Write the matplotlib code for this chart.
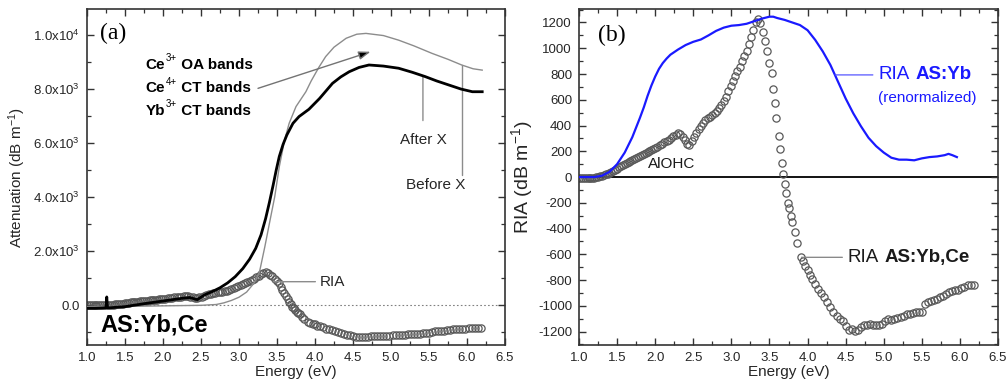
import numpy as np
import matplotlib
matplotlib.use("Agg")
import matplotlib.pyplot as plt
from matplotlib.ticker import MultipleLocator, FixedLocator

plt.rcParams['font.family'] = ['Liberation Sans', 'DejaVu Sans']
plt.rcParams['mathtext.fontset'] = 'custom'
plt.rcParams['mathtext.rm'] = 'Liberation Sans'
plt.rcParams['mathtext.bf'] = 'Liberation Sans:bold'
plt.rcParams['mathtext.it'] = 'Liberation Sans:italic'

# ---------------- data ----------------
# RIA of AS:Yb,Ce (open circles, both panels)
ria_e = [1.00, 1.025, 1.05, 1.075, 1.10, 1.125, 1.15, 1.175, 1.20, 1.225, 1.25, 1.275,
         1.30, 1.325, 1.35, 1.375, 1.40, 1.425, 1.45, 1.475, 1.50, 1.525, 1.55, 1.575,
         1.60, 1.625, 1.65, 1.675, 1.70, 1.725, 1.75, 1.775, 1.80, 1.825, 1.85, 1.875,
         1.90, 1.925, 1.95, 1.975, 2.00, 2.03, 2.06, 2.09, 2.12, 2.15, 2.18, 2.21, 2.24,
         2.27, 2.30, 2.33, 2.36, 2.39, 2.42, 2.45, 2.48, 2.51, 2.54, 2.57, 2.60, 2.63,
         2.66, 2.69, 2.72, 2.75, 2.78, 2.81, 2.84, 2.87, 2.90, 2.93, 2.96, 2.99, 3.02,
         3.05, 3.08, 3.11, 3.14, 3.17, 3.20, 3.23, 3.26, 3.29, 3.32, 3.35, 3.38, 3.41,
         3.44, 3.47, 3.50, 3.53, 3.55, 3.57, 3.59, 3.62, 3.64, 3.66, 3.68, 3.70, 3.72,
         3.74, 3.76, 3.78, 3.80, 3.83, 3.86, 3.91, 3.94, 3.97, 4.00, 4.03, 4.06, 4.10,
         4.14, 4.18, 4.22, 4.26, 4.30, 4.34, 4.38, 4.42, 4.46, 4.50, 4.54, 4.58, 4.62,
         4.66, 4.70, 4.74, 4.78, 4.82, 4.86, 4.90, 4.94, 4.98, 5.02, 5.06, 5.10, 5.14,
         5.18, 5.22, 5.26, 5.30, 5.34, 5.38, 5.42, 5.46, 5.50, 5.54, 5.58, 5.62, 5.66,
         5.70, 5.74, 5.78, 5.82, 5.86, 5.90, 5.94, 5.98, 6.02, 6.06, 6.10, 6.14, 6.19]
ria_v = [-5, -5, -5, -5, -5, -5, -5, -5, -5, -3, 0, 5,
         10, 15, 20, 25, 35, 40, 50, 55, 65, 75, 85, 95,
         100, 110, 120, 125, 135, 140, 150, 155, 165, 170, 180, 185,
         195, 200, 210, 215, 225, 235, 245, 255, 270, 280, 290, 300, 315,
         325, 340, 335, 310, 285, 260, 250, 280, 310, 340, 370, 400, 420,
         440, 455, 470, 485, 500, 515, 535, 560, 590, 625, 665, 705, 745,
         785, 820, 855, 900, 940, 975, 1030, 1090, 1140, 1200, 1225, 1195, 1130,
         1060, 980, 885, 805, 680, 575, 460, 320, 220, 110, 25, -55, -120,
         -200, -240, -300, -350, -425, -510, -620, -650, -690, -720, -760, -790, -830,
         -870, -900, -935, -970, -1010, -1050, -1080, -1100, -1120, -1160, -1185, -1180, -1195,
         -1190, -1165, -1145, -1150, -1140, -1145, -1150, -1145, -1140, -1120, -1100, -1110, -1100,
         -1095, -1085, -1075, -1065, -1060, -1055, -1050, -1050, -1045, -985, -970, -960, -955,
         -945, -935, -920, -905, -895, -885, -880, -875, -865, -850, -840, -835, -840]

# Attenuation before irradiation (thin grey)
before_e = [1.00, 1.50, 2.00, 2.50, 2.70, 2.80, 2.90, 3.00, 3.10, 3.20, 3.27, 3.34,
            3.40, 3.47, 3.53, 3.60, 3.66, 3.75, 3.88, 3.95, 4.05, 4.14, 4.25, 4.41,
            4.55, 4.67, 4.90, 5.10, 5.30, 5.54, 5.75, 5.93, 6.08, 6.20]
before_v = [-60, -50, -30, -10, 20, 80, 170, 290, 480, 820, 1230, 2160,
            3020, 4010, 5120, 6110, 6730, 7350, 7900, 8300, 8800, 9200, 9550, 9880,
            10030, 10060, 9980, 9810, 9600, 9320, 9100, 8890, 8750, 8700]

# Attenuation after irradiation (thick black)
after_e = [1.00, 1.10, 1.20, 1.25, 1.26, 1.27, 1.30, 1.50, 1.75, 2.00, 2.25, 2.35,
           2.45, 2.55, 2.65, 2.75, 2.85, 2.95, 3.05, 3.14, 3.22, 3.29, 3.35, 3.40,
           3.45, 3.49, 3.53, 3.58, 3.63, 3.71, 3.79, 3.92, 4.06, 4.23, 4.34, 4.45,
           4.58, 4.71, 4.90, 5.10, 5.28, 5.45, 5.60, 5.76, 5.92, 6.07, 6.20]
after_v = [-120, -120, -110, -100, 300, -100, -100, -60, 50, 150, 250, 280,
           200, 380, 500, 640, 820, 1050, 1350, 1700, 2100, 2600, 3200, 3800,
           4450, 5000, 5500, 5950, 6300, 6730, 6980, 7250, 7650, 8210, 8450, 8640,
           8800, 8890, 8850, 8770, 8620, 8460, 8300, 8150, 8000, 7900, 7900]

# RIA of AS:Yb, renormalised (blue line, panel b)
yb_e = [1.00, 1.10, 1.20, 1.30, 1.40, 1.50, 1.60, 1.70, 1.80, 1.85, 1.90, 1.95,
        2.00, 2.05, 2.10, 2.15, 2.20, 2.30, 2.40, 2.50, 2.60, 2.70, 2.80, 2.90,
        3.00, 3.10, 3.20, 3.30, 3.40, 3.50, 3.55, 3.60, 3.70, 3.80, 3.90, 4.00,
        4.10, 4.20, 4.30, 4.40, 4.50, 4.60, 4.70, 4.80, 4.90, 5.00, 5.10, 5.20,
        5.30, 5.40, 5.50, 5.60, 5.70, 5.80, 5.85, 5.90, 5.96]
yb_v = [0, 0, 0, 10, 40, 100, 190, 310, 460, 540, 630, 710,
        780, 840, 885, 920, 950, 990, 1025, 1050, 1068, 1100, 1135, 1160,
        1175, 1180, 1190, 1210, 1230, 1245, 1245, 1235, 1220, 1200, 1180, 1140,
        1065, 975, 870, 740, 610, 495, 395, 305, 240, 190, 150, 135,
        135, 130, 145, 155, 160, 170, 180, 170, 155]

a_yticks = [0, 2000, 4000, 6000, 8000, 10000]
a_yticklabels = ['0.0', r'2.0x10$^{3}$', r'4.0x10$^{3}$', r'6.0x10$^{3}$',
                 r'8.0x10$^{3}$', r'1.0x10$^{4}$']
b_yticks = list(range(-1200, 1201, 200))
xticks = [1.0, 1.5, 2.0, 2.5, 3.0, 3.5, 4.0, 4.5, 5.0, 5.5, 6.0, 6.5]

# ---------------- figure ----------------
fig = plt.figure(figsize=(10.08, 3.87), dpi=100)
axa = fig.add_axes([0.0863, 0.1085, 0.4147, 0.868])
axb = fig.add_axes([0.5744, 0.1085, 0.4157, 0.868])

circle_kw = dict(ls='none', marker='o', ms=5.2, mfc='none', mec='0.35', mew=0.9)

for ax in (axa, axb):
    ax.set_xlim(1.0, 6.5)
    ax.xaxis.set_major_locator(FixedLocator(xticks))
    ax.set_xticklabels(['%.1f' % t for t in xticks])
    ax.xaxis.set_minor_locator(MultipleLocator(0.25))
    ax.tick_params(which='both', direction='in', top=True, right=True,
                   labelsize=9.5, colors='0.2', labelcolor='0.15')
    ax.tick_params(which='major', length=5, width=1.0, pad=5)
    ax.tick_params(which='minor', length=3, width=0.9)
    for s in ax.spines.values():
        s.set_linewidth(1.2)
        s.set_color('0.2')
    ax.set_xlabel('Energy (eV)', fontsize=11, color='0.15', labelpad=1)

# ---- panel (a)
axa.set_ylim(-1480, 10960)
axa.yaxis.set_major_locator(FixedLocator(a_yticks))
axa.set_yticklabels(a_yticklabels)
axa.yaxis.set_minor_locator(MultipleLocator(1000))
axa.axhline(0, color='0.5', lw=0.8, ls=(0, (1.5, 2)), zorder=1)
axa.plot(before_e, before_v, color='0.55', lw=1.0, zorder=3)
axa.plot(ria_e, ria_v, zorder=2, **circle_kw)
axa.plot(after_e, after_v, color='k', lw=2.0, zorder=4)
axa.set_ylabel(r'Attenuation (dB m$^{-1}$)', fontsize=11, color='0.15', labelpad=4)

axa.text(1.17, 10060, '(a)', family='Liberation Serif', fontsize=17, va='center', ha='left')
for yv, base, sup, rest in zip([8890, 8025, 7185],
                               ['Ce', 'Ce', 'Yb'], ['3+', '4+', '3+'],
                               [' OA bands', ' CT bands', ' CT bands']):
    t0 = axa.text(1.77, yv, base, fontsize=11, fontweight='bold', va='center', ha='left')
    t1 = axa.annotate(sup, xy=(1, 0.62), xycoords=t0, xytext=(0.5, 0),
                      textcoords='offset points', fontsize=7, va='bottom', ha='left')
    axa.annotate(rest, xy=(1, 0), xycoords=(t1, t0), xytext=(0, 0),
                 textcoords='offset points', fontsize=11, fontweight='bold',
                 va='bottom', ha='left')
axa.annotate('', xy=(4.73, 9380), xytext=(3.25, 8025),
             arrowprops=dict(arrowstyle='-|>,head_length=0.7,head_width=0.25',
                             ec='0.45', fc='k', lw=1.0, shrinkA=0, shrinkB=0))
axa.annotate('After X', xy=(5.42, 8460), xytext=(5.42, 6110), fontsize=11,
             ha='center', va='center', color='0.15',
             arrowprops=dict(arrowstyle='-', color='0.55', lw=1.0, shrinkA=7, shrinkB=0))
axa.annotate('Before X', xy=(5.93, 8890), xytext=(5.59, 4440), fontsize=11,
             ha='center', va='center', color='0.15',
             arrowprops=dict(arrowstyle='-', color='0.55', lw=1.0, shrinkA=0, shrinkB=0,
                             connectionstyle='angle,angleA=0,angleB=90,rad=0',
                             relpos=(0.0, 0.0)))
axa.annotate('RIA', xy=(3.45, 865), xytext=(4.06, 865), fontsize=11,
             ha='left', va='center', color='0.15',
             arrowprops=dict(arrowstyle='-', color='0.55', lw=1.0, shrinkA=1, shrinkB=0))
axa.text(1.17, -740, 'AS:Yb,Ce', fontsize=17, fontweight='bold', va='center', ha='left')

# ---- panel (b)
axb.set_ylim(-1304, 1304)
axb.yaxis.set_major_locator(FixedLocator(b_yticks))
axb.set_yticklabels([str(t) for t in b_yticks])
axb.yaxis.set_minor_locator(MultipleLocator(100))
axb.axhline(0, color='k', lw=1.3, zorder=1)
axb.plot(ria_e, ria_v, zorder=2, **circle_kw)
axb.plot(yb_e, yb_v, color='#1a1aff', lw=1.6, zorder=3)
axb.set_ylabel(r'RIA (dB m$^{-1}$)', fontsize=14, color='0.15', labelpad=2)

axb.text(1.25, 1100, '(b)', family='Liberation Serif', fontsize=17, va='center', ha='left')
axb.text(1.91, 100, 'AlOHC', fontsize=11, va='center', ha='left', color='0.1')
tb = axb.annotate('RIA', xy=(4.36, 793), xytext=(4.93, 793),
                  fontsize=13.5, color='#1a1aff', ha='left', va='center',
                  arrowprops=dict(arrowstyle='-', color='#5555ff', lw=0.9, shrinkA=2, shrinkB=0))
axb.annotate('AS:Yb', xy=(1, 0), xycoords=tb, xytext=(4, 0), textcoords='offset points',
             fontsize=13.5, fontweight='bold', color='#1a1aff', ha='left', va='bottom')
axb.text(4.93, 613, '(renormalized)', fontsize=11, color='#1a1aff', ha='left', va='center')
tc = axb.annotate('RIA', xy=(3.92, -623), xytext=(4.53, -623),
                  fontsize=13.5, color='0.1', ha='left', va='center',
                  arrowprops=dict(arrowstyle='-', color='0.5', lw=0.9, shrinkA=2, shrinkB=0))
axb.annotate('AS:Yb,Ce', xy=(1, 0), xycoords=tc, xytext=(4, 0), textcoords='offset points',
             fontsize=13.5, fontweight='bold', color='0.1', ha='left', va='bottom')

fig.savefig('out.png', dpi=100)
